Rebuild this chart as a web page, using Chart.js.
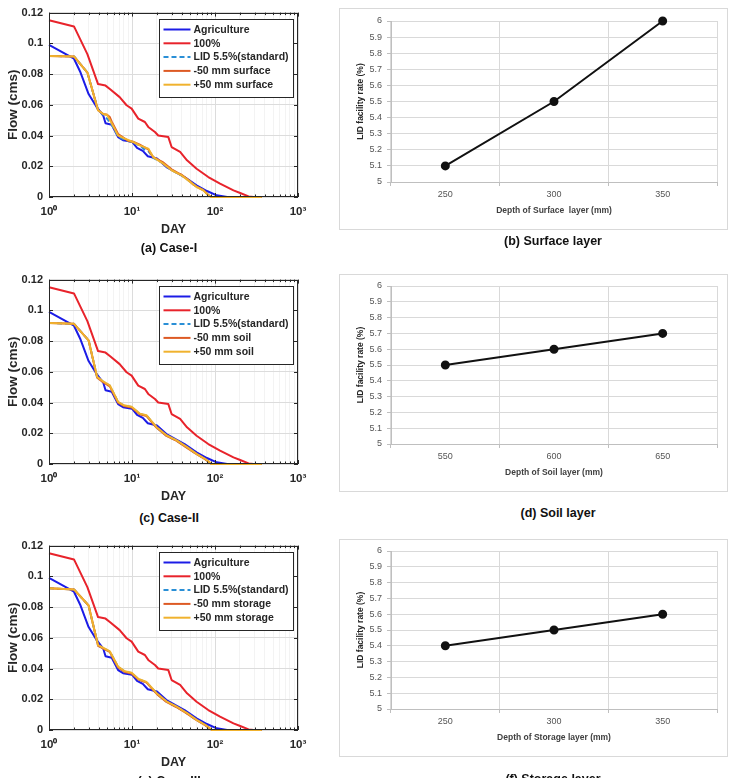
<!DOCTYPE html>
<html>
<head>
<meta charset="utf-8">
<script src="https://cdn.jsdelivr.net/npm/chart.js@4/dist/chart.umd.min.js"></script>
<style>
  html, body { margin:0; padding:0; background:#fff; }
  body { width:736px; height:778px; overflow:hidden; position:relative; }
  .lc { position:absolute; left:0; }
  .box { position:absolute; left:339px; width:387px; border:1px solid #d9d9d9; background:#fff; }
  .box canvas { display:block; }
  .cap { position:absolute; font:bold 12.5px "Liberation Sans", Arial, sans-serif; color:#111; text-align:center; line-height:16px; white-space:nowrap; }
</style>
</head>
<body>
<canvas id="c1" class="lc" width="320" height="243" style="top:0px"></canvas>
<canvas id="c2" class="lc" width="320" height="243" style="top:267px"></canvas>
<canvas id="c3" class="lc" width="320" height="243" style="top:533px"></canvas>
<div class="box" style="top:8px;height:220px"><canvas id="r1" width="387" height="220"></canvas></div>
<div class="box" style="top:274px;height:216px"><canvas id="r2" width="387" height="216"></canvas></div>
<div class="box" style="top:539px;height:216px"><canvas id="r3" width="387" height="216"></canvas></div>
<div class="cap" style="left:4px;width:330px;top:240px">(a) Case-I</div>
<div class="cap" style="left:388px;width:330px;top:233px">(b) Surface layer</div>
<div class="cap" style="left:4px;width:330px;top:510px">(c) Case-II</div>
<div class="cap" style="left:393px;width:330px;top:505px">(d) Soil layer</div>
<div class="cap" style="left:4px;width:330px;top:773px">(e) Case-III</div>
<div class="cap" style="left:388px;width:330px;top:771px">(f) Storage layer</div>
<script>
// ---------------- DATA ----------------
const dayTickValues = [1, 10, 100, 1000];
const dayTickLabels = ['10\u2070', '10\u00B9', '10\u00B2', '10\u00B3'];
const flowTickValues = [0, 0.02, 0.04, 0.06, 0.08, 0.1, 0.12];

// Agriculture (same in all cases)
const aggDays = [1, 2, 2.4, 3, 3.7, 4.5, 4.8, 5.7, 6.8, 7.8, 10, 11.5, 13.5, 15.5, 20, 26, 33, 43, 60, 80, 105, 140, 365];
const aggFlow = [0.099, 0.090, 0.081, 0.067, 0.059, 0.053, 0.048, 0.047, 0.039, 0.037, 0.036, 0.032, 0.030, 0.0265, 0.025, 0.0195, 0.0163, 0.013, 0.0076, 0.0039, 0.0011, 0, 0];
// 100% (same in all cases)
const fullDays = [1, 2, 2.9, 3.9, 4.8, 5.5, 7.1, 8.6, 9.9, 11.9, 14.3, 15.7, 18.9, 20.7, 27.4, 30, 38, 46, 60, 83, 115, 167, 201, 254, 292, 365];
const fullFlow = [0.115, 0.111, 0.093, 0.0735, 0.0725, 0.070, 0.065, 0.0597, 0.0575, 0.051, 0.0488, 0.0456, 0.0423, 0.040, 0.039, 0.0325, 0.0293, 0.0239, 0.0184, 0.013, 0.0087, 0.0043, 0.0026, 0.0004, 0, 0];

// Case-I (surface)
const lidIDays = [1, 2, 2.9, 3.9, 4.5, 5, 5.7, 6.8, 8.2, 10.3, 12.4, 14, 15.7, 18, 23.8, 30, 39.6, 47.6, 60, 72.5, 83, 91, 365];
const lidIFlow = [0.0918, 0.0915, 0.081, 0.0565, 0.0535, 0.051, 0.047, 0.0395, 0.037, 0.0355, 0.0335, 0.031, 0.030, 0.0255, 0.022, 0.0175, 0.014, 0.011, 0.0068, 0.0045, 0.0013, 0, 0];
const minusIDays = [1, 2, 2.9, 3.9, 4.5, 5, 5.4, 5.7, 6.8, 8.2, 9, 10.3, 12.4, 14, 15.7, 16.5, 18, 23.8, 30, 36, 39.6, 47.6, 55, 60, 72.5, 83, 91, 365];
const minusIFlow = [0.0918, 0.0915, 0.081, 0.0565, 0.054, 0.0535, 0.052, 0.049, 0.041, 0.038, 0.0365, 0.036, 0.034, 0.0325, 0.031, 0.029, 0.026, 0.0225, 0.018, 0.0155, 0.0145, 0.0112, 0.008, 0.0068, 0.0045, 0.0013, 0, 0];
const plusIDays = [1, 2, 2.9, 3.9, 4.5, 5, 5.7, 6.8, 8.2, 10.3, 12.4, 15.7, 18, 23.8, 30, 39.6, 47.6, 60, 72.5, 83, 91, 365];
const plusIFlow = [0.0918, 0.0915, 0.081, 0.0565, 0.054, 0.0535, 0.048, 0.040, 0.038, 0.0358, 0.0336, 0.0315, 0.026, 0.0217, 0.0174, 0.0141, 0.0108, 0.0065, 0.0043, 0.0011, 0, 0];

// Case-II (soil)
const lidIIDays = [1, 2, 3, 3.8, 4.5, 5.4, 6.8, 8, 9.9, 12.4, 15, 17, 19.7, 26, 34.5, 45.6, 60, 75.8, 91, 365];
const lidIIFlow = [0.0918, 0.0912, 0.0805, 0.0565, 0.0535, 0.051, 0.0402, 0.038, 0.037, 0.0326, 0.0315, 0.028, 0.0239, 0.0185, 0.0152, 0.0109, 0.0065, 0.0033, 0, 0];
const minusIIDays = [1, 2, 3, 3.8, 4.5, 5.4, 6.8, 8, 9.9, 12.4, 15, 17, 19.7, 26, 34.5, 45.6, 60, 75.8, 91, 365];
const minusIIFlow = [0.0918, 0.0912, 0.0805, 0.0562, 0.0532, 0.0505, 0.0400, 0.0378, 0.0368, 0.0324, 0.0312, 0.0278, 0.0237, 0.0183, 0.0150, 0.0107, 0.0064, 0.0032, 0, 0];
const plusIIDays = [1, 2, 3, 3.8, 4.5, 5.4, 6.8, 8, 9.9, 12.4, 15, 17, 19.7, 26, 34.5, 45.6, 60, 75.8, 91, 365];
const plusIIFlow = [0.0918, 0.0912, 0.0805, 0.0567, 0.0537, 0.0512, 0.0404, 0.0382, 0.0372, 0.0328, 0.0317, 0.0282, 0.0241, 0.0187, 0.0154, 0.0111, 0.0066, 0.0034, 0, 0];

// Case-III (storage)
const lidIIIDays = [1, 2, 3, 3.9, 4.6, 5.4, 6.8, 8.2, 9.9, 12, 15, 17.5, 20, 26, 34.5, 45.6, 60, 76, 92, 365];
const lidIIIFlow = [0.0922, 0.0915, 0.081, 0.055, 0.053, 0.051, 0.041, 0.038, 0.037, 0.033, 0.031, 0.027, 0.0235, 0.0185, 0.015, 0.011, 0.0065, 0.0033, 0, 0];
const minusIIIDays = [1, 2, 3, 3.9, 4.6, 5.4, 6.8, 8.2, 9.9, 12, 15, 17.5, 20, 26, 34.5, 45.6, 60, 76, 92, 365];
const minusIIIFlow = [0.0922, 0.0915, 0.081, 0.0548, 0.0528, 0.0508, 0.0408, 0.0378, 0.0368, 0.0328, 0.0308, 0.0268, 0.0233, 0.0183, 0.0148, 0.0108, 0.0064, 0.0032, 0, 0];
const plusIIIDays = [1, 2, 3, 3.9, 4.6, 5.4, 6.8, 8.2, 9.9, 12, 15, 17.5, 20, 26, 34.5, 45.6, 60, 76, 92, 365];
const plusIIIFlow = [0.0922, 0.0915, 0.081, 0.0552, 0.0532, 0.0512, 0.0412, 0.0382, 0.0372, 0.0332, 0.0312, 0.0272, 0.0237, 0.0187, 0.0152, 0.0112, 0.0066, 0.0034, 0, 0];

// Right panels
const surfaceDepth = ['250', '300', '350'];
const surfaceRate = [5.1, 5.5, 6.0];
const soilDepth = ['550', '600', '650'];
const soilRate = [5.5, 5.6, 5.7];
const storageDepth = ['250', '300', '350'];
const storageRate = [5.4, 5.5, 5.6];
const rateTickValues = [5, 5.1, 5.2, 5.3, 5.4, 5.5, 5.6, 5.7, 5.8, 5.9, 6];

// ---------------- CHARTS ----------------
const AX = '#262626';
const pts = (d, f) => d.map((x, i) => ({x: x, y: f[i]}));

const matlabFrame = {
  id: 'matlabFrame',
  afterDatasetsDraw(chart) {
    const {ctx, chartArea: a, scales: {x, y}} = chart;
    ctx.save();
    ctx.strokeStyle = AX; ctx.lineWidth = 1;
    ctx.beginPath();
    x.ticks.forEach(t => {
      const px = Math.round(x.getPixelForValue(t.value)) + 0.5;
      const L = dayTickValues.includes(t.value) ? 4 : 2.5;
      ctx.moveTo(px, a.bottom); ctx.lineTo(px, a.bottom - L);
      ctx.moveTo(px, a.top); ctx.lineTo(px, a.top + L);
    });
    y.ticks.forEach(t => {
      const py = Math.round(y.getPixelForValue(t.value)) + 0.5;
      ctx.moveTo(a.left, py); ctx.lineTo(a.left + 4, py);
      ctx.moveTo(a.right, py); ctx.lineTo(a.right - 4, py);
    });
    ctx.stroke();
    ctx.strokeRect(Math.round(a.left) + 0.5, Math.round(a.top) + 0.5, Math.round(a.width) - 1, Math.round(a.height) - 1);
    // legend box
    const bw = 134, bh = 78;
    const bx = Math.round(a.right - 5 - bw) + 0.5, by = Math.round(a.top + 6) + 0.5;
    ctx.fillStyle = '#fff';
    ctx.fillRect(bx, by, bw, bh);
    ctx.strokeStyle = AX;
    ctx.strokeRect(bx, by, bw, bh);
    ctx.font = 'bold 10.5px "Liberation Sans", Arial, sans-serif';
    ctx.textBaseline = 'middle';
    ctx.fillStyle = AX;
    chart.data.datasets.forEach((ds, i) => {
      const ry = by + 10 + i * 13.8;
      ctx.beginPath();
      ctx.strokeStyle = ds.borderColor;
      ctx.lineWidth = 2;
      ctx.setLineDash(ds.borderDash || []);
      ctx.moveTo(bx + 4, ry); ctx.lineTo(bx + 31, ry);
      ctx.stroke();
      ctx.setLineDash([]);
      ctx.fillText(ds.label, bx + 34, ry + 0.5);
    });
    ctx.restore();
  }
};

function leftChart(id, lid, minus, plus, suffix) {
  const logTicks = [];
  [1, 10, 100].forEach(p => { for (let k = 1; k < 10; k++) logTicks.push(k * p); });
  logTicks.push(1000);
  const F = '"Liberation Sans", Arial, sans-serif';
  return new Chart(document.getElementById(id), {
    type: 'line',
    data: {
      datasets: [
        {label: 'Agriculture', data: pts(aggDays, aggFlow), borderColor: '#1c1ce6', borderWidth: 2, order: 5, clip: 3},
        {label: '100%', data: pts(fullDays, fullFlow), borderColor: '#e8232b', borderWidth: 2, order: 4, clip: 3},
        {label: 'LID 5.5%(standard)', data: pts(lid[0], lid[1]), borderColor: '#2a8fd6', borderWidth: 2, borderDash: [5, 3], order: 3, clip: 3},
        {label: '-50 mm ' + suffix, data: pts(minus[0], minus[1]), borderColor: '#dd5a24', borderWidth: 2, order: 2, clip: 3},
        {label: '+50 mm ' + suffix, data: pts(plus[0], plus[1]), borderColor: '#f0b22e', borderWidth: 2, order: 1, clip: 3}
      ]
    },
    options: {
      responsive: false, animation: false, devicePixelRatio: 1,
      elements: {point: {radius: 0}, line: {tension: 0, borderJoinStyle: 'round'}},
      layout: {padding: {left: 0, top: 12, right: 22, bottom: 0}},
      plugins: {legend: {display: false}, tooltip: {enabled: false}},
      scales: {
        x: {
          type: 'logarithmic', min: 1, max: 1000,
          afterBuildTicks: s => { s.ticks = logTicks.map(v => ({value: v})); },
          afterFit: s => { s.height = 46; },
          ticks: {
            autoSkip: false, maxRotation: 0, padding: 8, color: AX,
            font: {family: F, size: 11.5, weight: 'bold'},
            callback: v => { const i = dayTickValues.indexOf(v); return i >= 0 ? dayTickLabels[i] : ''; }
          },
          grid: {color: c => dayTickValues.includes(c.tick && c.tick.value) ? '#dcdcdc' : '#f3f3f3', drawTicks: false},
          border: {display: false},
          title: {display: true, text: 'DAY', color: AX, padding: {top: 0, bottom: 6},
                  font: {family: F, size: 12.5, weight: 'bold'}}
        },
        y: {
          type: 'linear', min: 0, max: 0.12,
          afterBuildTicks: s => { s.ticks = flowTickValues.map(v => ({value: v})); },
          afterFit: s => { s.width = 49; },
          ticks: {
            padding: 6, color: AX,
            font: {family: F, size: 11, weight: 'bold'},
            callback: v => String(Number(v.toFixed(2)))
          },
          grid: {color: '#dcdcdc', drawTicks: false},
          border: {display: false},
          title: {display: true, text: 'Flow (cms)', color: AX, padding: {top: 5, bottom: 0},
                  font: {family: F, size: 13.5, weight: 'bold'}}
        }
      }
    },
    plugins: [matlabFrame]
  });
}

leftChart('c1', [lidIDays, lidIFlow], [minusIDays, minusIFlow], [plusIDays, plusIFlow], 'surface');
leftChart('c2', [lidIIDays, lidIIFlow], [minusIIDays, minusIIFlow], [plusIIDays, plusIIFlow], 'soil');
leftChart('c3', [lidIIIDays, lidIIIFlow], [minusIIIDays, minusIIIFlow], [plusIIIDays, plusIIIFlow], 'storage');

function rightChart(id, labels, values, xTitle, plotTop, xH) {
  const F = '"Liberation Sans", Arial, sans-serif';
  return new Chart(document.getElementById(id), {
    type: 'line',
    data: {labels: labels, datasets: [{data: values, borderColor: '#111', borderWidth: 2, clip: false,
      pointRadius: 3.5, pointBackgroundColor: '#111', pointBorderColor: '#111', tension: 0}]},
    options: {
      responsive: false, animation: false, devicePixelRatio: 1,
      layout: {padding: {left: 0, top: plotTop, right: 10, bottom: 0}},
      plugins: {legend: {display: false}, tooltip: {enabled: false}},
      scales: {
        x: {
          type: 'category', offset: true,
          afterFit: s => { s.height = xH; },
          grid: {offset: true, color: '#d9d9d9', tickLength: 4, tickColor: '#bfbfbf'},
          border: {color: '#bfbfbf'},
          ticks: {color: '#555', padding: 3, font: {family: F, size: 9}},
          title: {display: true, text: xTitle, color: '#404040', padding: {top: 0, bottom: 13},
                  font: {family: F, size: 8.5, weight: 'bold'}}
        },
        y: {
          min: 5, max: 6,
          afterBuildTicks: s => { s.ticks = rateTickValues.map(v => ({value: v})); },
          afterFit: s => { s.width = 51; },
          grid: {color: '#d9d9d9', tickLength: 4, tickColor: '#bfbfbf'},
          border: {color: '#bfbfbf'},
          ticks: {color: '#555', padding: 5, font: {family: F, size: 9},
                  callback: v => String(Number(v.toFixed(1)))},
          title: {display: true, text: 'LID facility rate (%)', color: '#262626', padding: {top: 16, bottom: 0},
                  font: {family: F, size: 8.5, weight: 'bold'}}
        }
      }
    }
  });
}

rightChart('r1', surfaceDepth, surfaceRate, 'Depth of Surface  layer (mm)', 12, 47);
rightChart('r2', soilDepth, soilRate, 'Depth of Soil layer (mm)', 11, 47);
rightChart('r3', storageDepth, storageRate, 'Depth of Storage layer (mm)', 11, 47);
</script>
</body>
</html>
